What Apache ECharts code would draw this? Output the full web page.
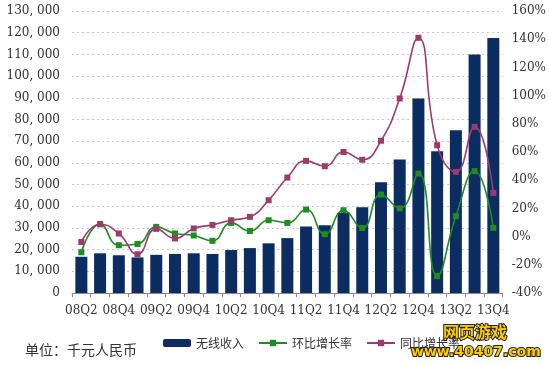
<!DOCTYPE html>
<html><head><meta charset="utf-8">
<script src="https://cdn.jsdelivr.net/npm/echarts@6/dist/echarts.min.js"></script>
<style>html,body{margin:0;padding:0;background:#fff}#c{width:549px;height:365px}</style>
</head><body><div id="c"></div>
<script>
const categories = ['08Q2','08Q3','08Q4','09Q1','09Q2','09Q3','09Q4','10Q1','10Q2','10Q3','10Q4','11Q1','11Q2','11Q3','11Q4','12Q1','12Q2','12Q3','12Q4','13Q1','13Q2','13Q3','13Q4'];
const revenue = [16700,18300,17400,16400,17600,18000,18300,18000,19800,20700,22900,25300,30600,31200,37000,39500,51000,61600,89700,65400,75000,110000,117500];
const qoq = [-11.1,8.8,-6.1,-5.2,6.9,2.2,0.8,-3.0,9.7,4.0,11.6,9.7,19.2,1.7,18.7,6.1,29.8,20.0,44.7,-27.9,14.5,46.4,6.2];
const yoy = [-3.8,8.8,2.2,-12.5,5.5,-1.3,5.8,8.3,11.6,14.0,25.8,41.9,53.7,49.9,60.0,54.5,68.0,98.0,141.0,64.8,45.9,77.8,31.0];
const seriesNames = ['无线收入','环比增长率','同比增长率'];
const leftTicks = {min:0,max:130000,interval:10000};
const rightTicks = {min:-40,max:160,interval:20};

const chart = echarts.init(document.getElementById('c'));
const serif = 'DejaVu Serif';
chart.setOption({
  animation:false,
  grid:{left:72,right:46,top:11,bottom:72,containLabel:false},
  legend:{
    left:158, top:332, itemGap:14, itemWidth:28, itemHeight:8,
    textStyle:{fontFamily:'Noto Sans CJK SC',fontSize:12,color:'#333'},
    data:seriesNames
  },
  xAxis:{
    type:'category', data:categories,
    axisLine:{lineStyle:{color:'#8a8a8a'}},
    axisTick:{show:true,interval:0,length:4,inside:false,lineStyle:{color:'#8a8a8a'}},
    axisLabel:{interval:1,margin:12,fontFamily:serif,fontSize:12,color:'#333'}
  },
  yAxis:[
    {type:'value',min:leftTicks.min,max:leftTicks.max,interval:leftTicks.interval,
     axisLine:{show:false},axisTick:{show:false},
     axisLabel:{margin:12,fontFamily:serif,fontSize:12,color:'#333',
       formatter:v=>{const s=v.toLocaleString('en-US');return s.replace(',',', ');}},
     splitLine:{lineStyle:{color:'#c8c8c8',type:[2,3]}}},
    {type:'value',min:rightTicks.min,max:rightTicks.max,interval:rightTicks.interval,
     axisLine:{show:false},axisTick:{show:false},
     axisLabel:{margin:9,fontFamily:serif,fontSize:12,color:'#333',formatter:v=>v+'%'},
     splitLine:{show:false}}
  ],
  series:[
    {name:seriesNames[0],type:'bar',data:revenue,barWidth:12,itemStyle:{color:'#0c2d62'},yAxisIndex:0},
    {name:seriesNames[1],type:'line',data:qoq,yAxisIndex:1,smooth:true,symbol:'rect',symbolSize:6,
     lineStyle:{color:'#1f8c1f',width:1.6},itemStyle:{color:'#1f8c1f'}},
    {name:seriesNames[2],type:'line',data:yoy,yAxisIndex:1,smooth:true,symbol:'rect',symbolSize:6,
     lineStyle:{color:'#9b3a6e',width:1.6},itemStyle:{color:'#9b3a6e'}}
  ],
  graphic:[
    {type:'text',left:25,top:343,style:{text:'单位：千元人民币',font:'14px "Noto Sans CJK SC"',fill:'#333'}},
    {type:'text',left:442,top:323,style:{text:'网页游戏',font:'bold 16px "Noto Sans CJK SC"',fill:'#ffcc00',stroke:'#222',lineWidth:2}},
    {type:'text',left:410,top:344,style:{text:'www.40407.com',font:'bold 14px "DejaVu Sans"',fill:'#ffcc00',stroke:'#222',lineWidth:2}}
  ]
});
</script></body></html>
